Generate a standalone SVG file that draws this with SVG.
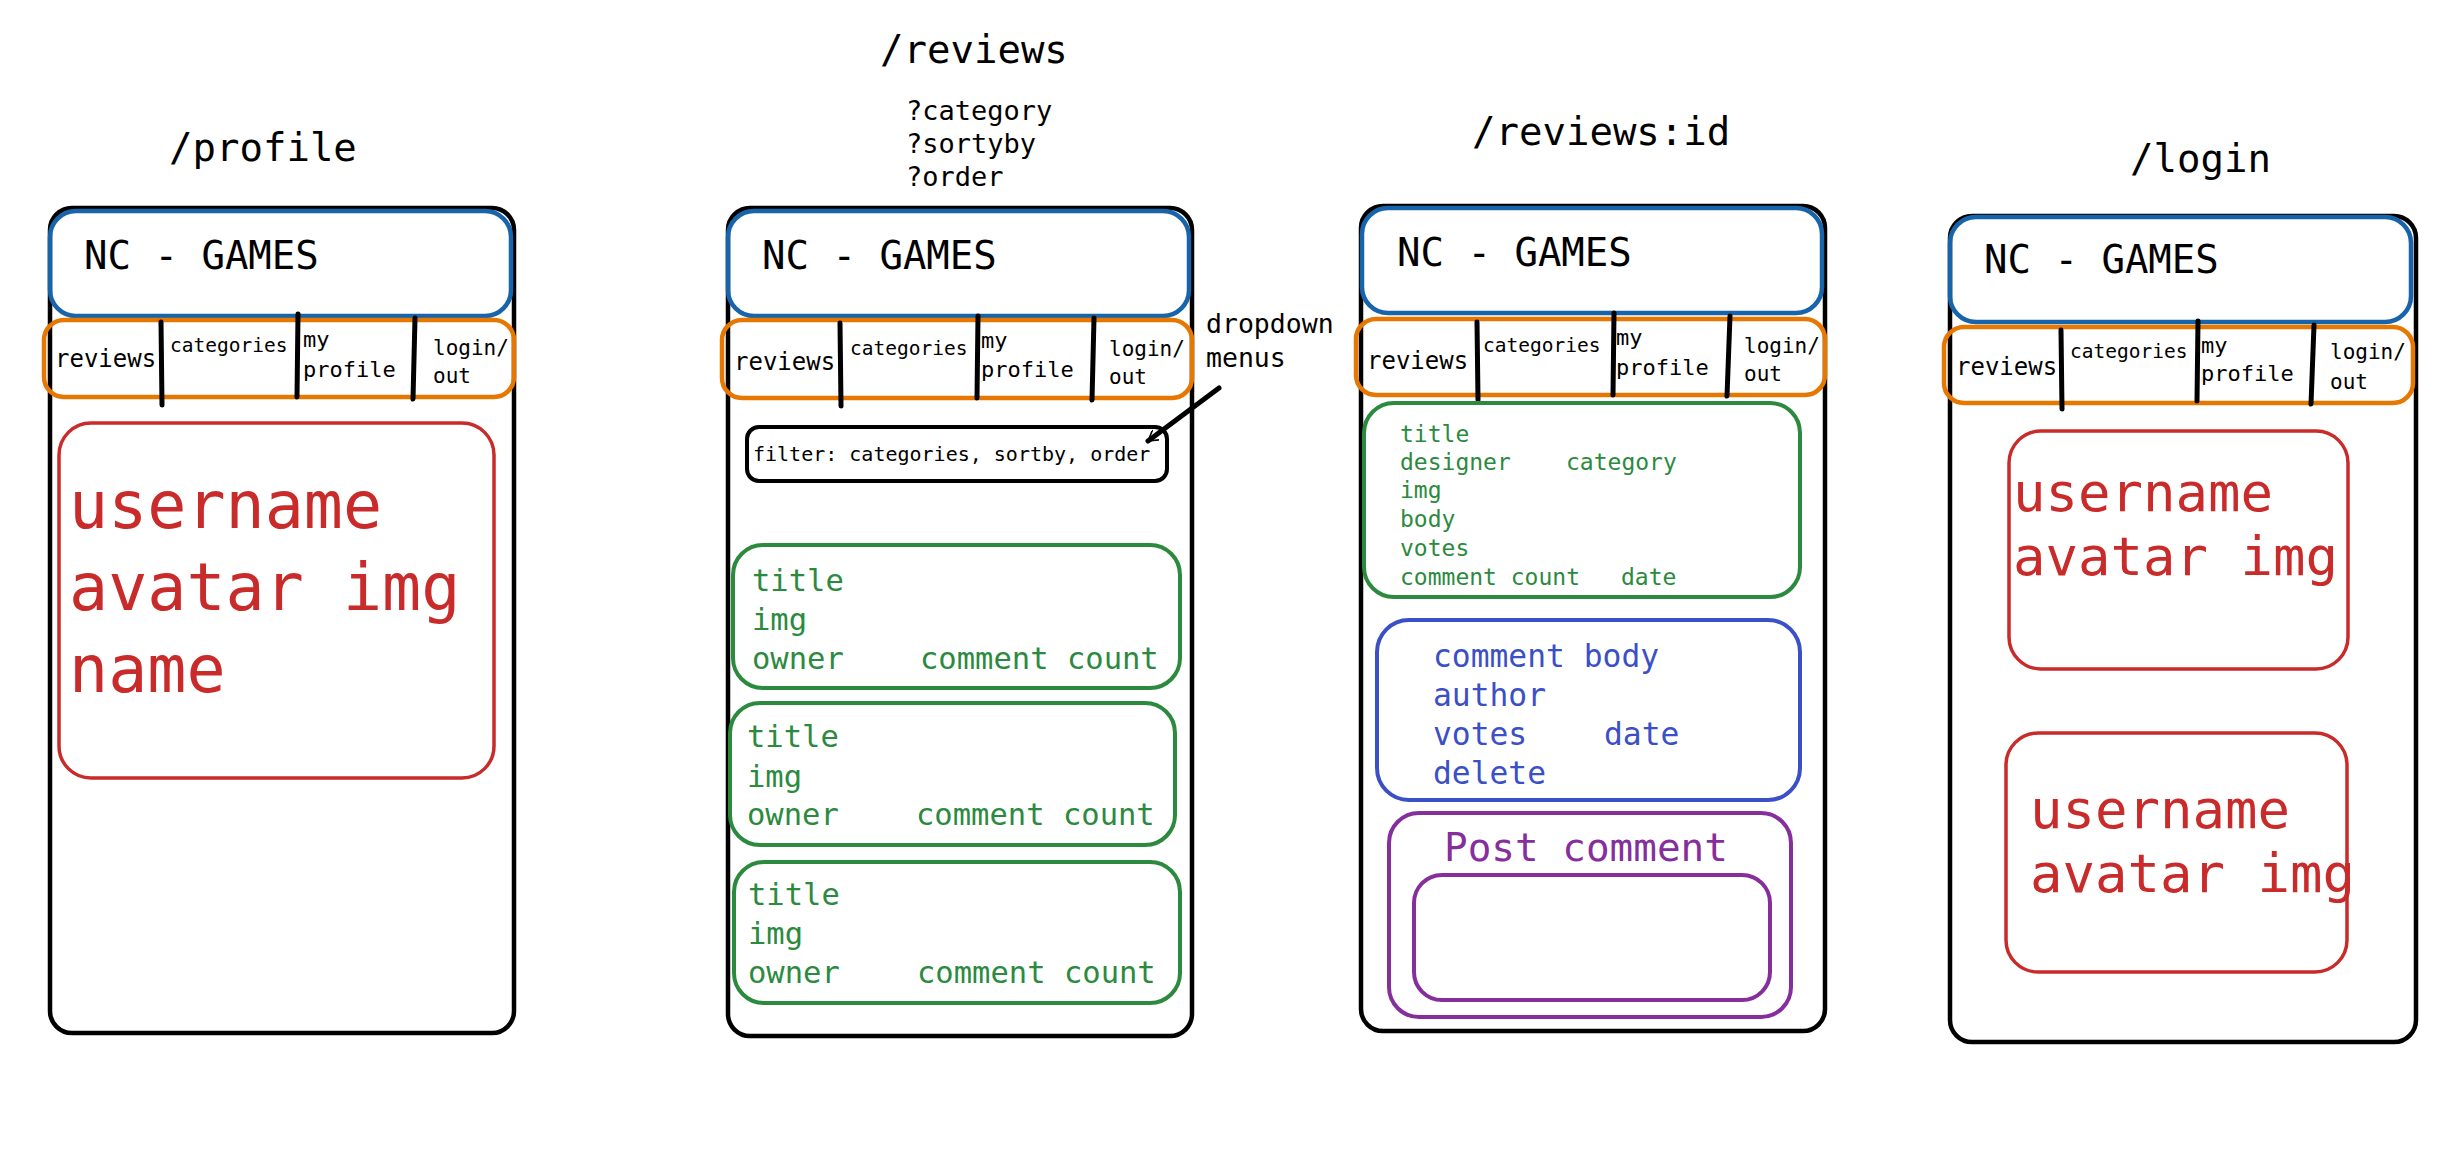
<svg xmlns="http://www.w3.org/2000/svg" width="2450" height="1173" viewBox="0 0 2450 1173">
<defs>
<style>
text{font-family:"DejaVu Sans Mono","Liberation Mono",monospace;}
.frame{fill:none;stroke:#000;stroke-width:4.5;}
.hdr{fill:none;stroke:#1864ab;stroke-width:4.5;}
.nav{fill:none;stroke:#e67700;stroke-width:4.5;}
.div{stroke:#000;stroke-width:5;stroke-linecap:round;fill:none;}
.grn{fill:none;stroke:#2b8a3e;stroke-width:4;}
.red{fill:none;stroke:#c92a2a;stroke-width:3.5;}
.blu{fill:none;stroke:#3b4fc6;stroke-width:4;}
.pur{fill:none;stroke:#862e9c;stroke-width:4;}
.box{fill:none;stroke:#000;stroke-width:4;}
.title{font-size:39px;fill:#000;}
.q{font-size:27px;fill:#000;}
.nc{font-size:39px;fill:#000;}
.n1{font-size:24px;fill:#000;}
.n2{font-size:19.5px;fill:#000;}
.n3{font-size:22px;fill:#000;}
.n4{font-size:21px;fill:#000;}
.gt{font-size:30.5px;fill:#2b8a3e;}
.gs{font-size:23px;fill:#2b8a3e;}
.bt{font-size:31.3px;fill:#3b4fc6;}
.pt{font-size:39.3px;fill:#862e9c;}
.rt{font-size:65px;fill:#c92a2a;}
.rl{font-size:54px;fill:#c92a2a;}
.ft{font-size:20px;fill:#000;}
.dd{font-size:26.5px;fill:#000;}
</style>
<marker id="open" markerWidth="12" markerHeight="12" refX="10" refY="6" orient="auto" markerUnits="userSpaceOnUse" viewBox="0 0 12 12">
<path d="M0,0 L10,6 L0,12" fill="none" stroke="#000" stroke-width="1.6" stroke-linecap="round" stroke-linejoin="round"/>
</marker>
</defs>
<rect width="2450" height="1173" fill="#fff"/>

<!-- /profile -->
<g id="profile-page">
<text class="title" x="169" y="161">/profile</text>
<rect class="frame" x="50" y="208" width="464" height="825" rx="22"/>
<rect class="hdr" x="50" y="211" width="461" height="105" rx="26"/>
<text class="nc" x="84" y="269">NC - GAMES</text>
<rect class="nav" x="44" y="320" width="470" height="77" rx="20"/>
<line class="div" x1="161" y1="322" x2="162" y2="405"/>
<line class="div" x1="298" y1="314" x2="297" y2="397"/>
<line class="div" x1="415" y1="318" x2="413" y2="399"/>
<text class="n1" x="55" y="367">reviews</text>
<text class="n2" x="170" y="352">categories</text>
<text class="n3" x="303" y="347">my</text>
<text class="n3" x="303" y="377">profile</text>
<text class="n4" x="433" y="355">login/</text>
<text class="n4" x="433" y="383">out</text>
</g>
<g id="profile-user">
<rect class="red" x="59" y="423" width="435" height="355" rx="32"/>
<text class="rt" x="69" y="528">username</text>
<text class="rt" x="69" y="610">avatar img</text>
<text class="rt" x="69" y="692">name</text>
</g>

<!-- /reviews -->
<g id="reviews-page">
<text class="title" x="880" y="63">/reviews</text>
<text class="q" x="906" y="120">?category</text>
<text class="q" x="906" y="153">?sortyby</text>
<text class="q" x="906" y="186">?order</text>
<rect class="frame" x="728" y="208" width="464" height="828" rx="22"/>
<rect class="hdr" x="728" y="211" width="461" height="105" rx="26"/>
<text class="nc" x="762" y="269">NC - GAMES</text>
<rect class="nav" x="722" y="320" width="470" height="78" rx="20"/>
<line class="div" x1="840" y1="323" x2="841" y2="406"/>
<line class="div" x1="978" y1="316" x2="977" y2="398"/>
<line class="div" x1="1094" y1="318" x2="1092" y2="400"/>
<text class="n1" x="734" y="370">reviews</text>
<text class="n2" x="850" y="355">categories</text>
<text class="n3" x="981" y="348">my</text>
<text class="n3" x="981" y="377">profile</text>
<text class="n4" x="1109" y="356">login/</text>
<text class="n4" x="1109" y="384">out</text>
<text class="dd" x="1206" y="333">dropdown</text>
<text class="dd" x="1206" y="367">menus</text>
</g>
<g id="reviews-filter">
<rect class="box" x="747" y="427" width="420" height="54" rx="12"/>
<text class="ft" x="753" y="461">filter: categories, sortby, order</text>
</g>
<g id="review-card-1">
<rect class="grn" x="733" y="545" width="447" height="143" rx="30"/>
<text class="gt" x="752" y="591">title</text>
<text class="gt" x="752" y="630">img</text>
<text class="gt" x="752" y="669">owner</text>
<text class="gt" x="920" y="669">comment count</text>
</g>
<g id="review-card-2">
<rect class="grn" x="730" y="703" width="445" height="142" rx="30"/>
<text class="gt" x="747" y="747">title</text>
<text class="gt" x="747" y="787">img</text>
<text class="gt" x="747" y="825">owner</text>
<text class="gt" x="916" y="825">comment count</text>
</g>
<g id="review-card-3">
<rect class="grn" x="734" y="862" width="446" height="141" rx="30"/>
<text class="gt" x="748" y="905">title</text>
<text class="gt" x="748" y="944">img</text>
<text class="gt" x="748" y="983">owner</text>
<text class="gt" x="917" y="983">comment count</text>
</g>

<!-- /reviews:id -->
<g id="review-page">
<text class="title" x="1472" y="145">/reviews:id</text>
<rect class="frame" x="1361" y="206" width="464" height="825" rx="22"/>
<rect class="hdr" x="1362" y="208" width="460" height="105" rx="26"/>
<text class="nc" x="1397" y="266">NC - GAMES</text>
<rect class="nav" x="1356" y="319" width="469" height="76" rx="20"/>
<line class="div" x1="1477" y1="322" x2="1478" y2="400"/>
<line class="div" x1="1614" y1="313" x2="1613" y2="395"/>
<line class="div" x1="1730" y1="316" x2="1727" y2="396"/>
<text class="n1" x="1367" y="369">reviews</text>
<text class="n2" x="1483" y="352">categories</text>
<text class="n3" x="1616" y="345">my</text>
<text class="n3" x="1616" y="375">profile</text>
<text class="n4" x="1744" y="353">login/</text>
<text class="n4" x="1744" y="381">out</text>
</g>
<g id="review-detail">
<rect class="grn" x="1364" y="403" width="436" height="194" rx="30"/>
<text class="gs" x="1400" y="442">title</text>
<text class="gs" x="1400" y="470">designer</text>
<text class="gs" x="1566" y="470">category</text>
<text class="gs" x="1400" y="498">img</text>
<text class="gs" x="1400" y="527">body</text>
<text class="gs" x="1400" y="556">votes</text>
<text class="gs" x="1400" y="585">comment count</text>
<text class="gs" x="1621" y="585">date</text>
</g>
<g id="comment-card">
<rect class="blu" x="1377" y="620" width="423" height="180" rx="32"/>
<text class="bt" x="1433" y="667">comment body</text>
<text class="bt" x="1433" y="706">author</text>
<text class="bt" x="1433" y="745">votes</text>
<text class="bt" x="1604" y="745">date</text>
<text class="bt" x="1433" y="784">delete</text>
</g>
<g id="post-comment">
<rect class="pur" x="1389" y="813" width="402" height="204" rx="30"/>
<text class="pt" x="1444" y="861">Post comment</text>
<rect class="pur" x="1414" y="875" width="356" height="125" rx="28"/>
</g>

<!-- /login -->
<g id="login-page">
<text class="title" x="2130" y="172">/login</text>
<rect class="frame" x="1950" y="216" width="466" height="826" rx="22"/>
<rect class="hdr" x="1950" y="217" width="461" height="105" rx="26"/>
<text class="nc" x="1984" y="273">NC - GAMES</text>
<rect class="nav" x="1944" y="327" width="469" height="76" rx="20"/>
<line class="div" x1="2061" y1="330" x2="2062" y2="409"/>
<line class="div" x1="2198" y1="321" x2="2197" y2="401"/>
<line class="div" x1="2314" y1="325" x2="2311" y2="404"/>
<text class="n1" x="1956" y="375">reviews</text>
<text class="n2" x="2070" y="358">categories</text>
<text class="n3" x="2201" y="353">my</text>
<text class="n3" x="2201" y="381">profile</text>
<text class="n4" x="2330" y="359">login/</text>
<text class="n4" x="2330" y="389">out</text>
</g>
<g id="login-user-1">
<rect class="red" x="2009" y="431" width="339" height="238" rx="32"/>
<text class="rl" x="2013" y="511">username</text>
<text class="rl" x="2013" y="575">avatar img</text>
</g>
<g id="login-user-2">
<rect class="red" x="2006" y="733" width="341" height="239" rx="32"/>
<text class="rl" x="2030" y="828">username</text>
<text class="rl" x="2030" y="892">avatar img</text>
</g>

<g id="connectors">
<path d="M1219,388 L1148,441" fill="none" stroke="#000" stroke-width="5" stroke-linecap="round" marker-end="url(#open)"/>
</g>
</svg>
